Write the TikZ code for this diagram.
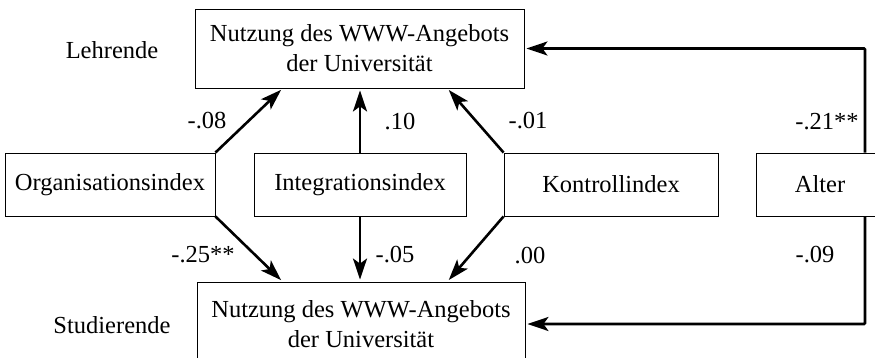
\documentclass[tikz,border=0pt]{standalone}
\usepackage{fontspec}
\setmainfont{Liberation Serif}
\usetikzlibrary{arrows.meta,calc}
\tikzset{
  box/.style={draw, line width=0.9pt, inner sep=0pt, align=center},
  arr/.style={line width=2.6pt, shorten >=2pt, -{Stealth[length=21pt,width=14pt,inset=5pt]}},
  lbl/.style={inner sep=0pt},
}
\begin{document}
\begin{tikzpicture}[x=1pt,y=-1pt,font=\fontsize{24.5}{30}\selectfont]
\useasboundingbox (0,0) rectangle (875,358);
\node[box, minimum width=329pt, minimum height=79pt] (top) at (359.5,48.5) {Nutzung des WWW-Angebots\\der Universität};
\node[box, minimum width=328pt, minimum height=84pt] (bot) at (361,324) {Nutzung des WWW-Angebots\\der Universität};
\node[box, minimum width=210pt, minimum height=63pt] (org) at (110,184.5) {Organisationsindex};
\node[box, minimum width=212pt, minimum height=63pt] (int) at (360,184.5) {Integrationsindex};
\node[box, minimum width=214pt, minimum height=63pt] (kon) at (611,184.5) {Kontrollindex};
\node[box, minimum width=128pt, minimum height=63pt] (alt) at (820,184.5) {Alter};
\node[lbl] (lehr) at (112,50) {Lehrende};
\node[lbl] (stud) at (112,325) {Studierende};
\draw[arr] (org.north east) -- ([xshift=88pt]top.south west);
\draw[arr] (int.north) -- (int.north |- top.south);
\draw[arr] (kon.north west) -- ([xshift=-77pt]top.south east);
\draw[arr] (org.south east) -- ([xshift=86pt]bot.north west);
\draw[arr] (int.south) -- (int.south |- bot.north);
\draw[arr] (kon.south west) -- ([xshift=-78pt]bot.north east);
\coordinate (ra) at ([xshift=45pt]alt.north);
\coordinate (rb) at ([xshift=45pt]alt.south);
\draw[arr, rounded corners=1pt] (ra) |- (top.east);
\draw[arr, rounded corners=1pt] (rb) |- (bot.east);
\node[lbl] (l1) at (207,121) {-.08};
\node[lbl] (l2) at (400,122) {.10};
\node[lbl] (l3) at (528,121) {-.01};
\node[lbl] (l4) at (827,122) {-.21**};
\node[lbl] (l5) at (203,255) {-.25**};
\node[lbl] (l6) at (395,255) {-.05};
\node[lbl] (l7) at (530,256) {.00};
\node[lbl] (l8) at (815,255) {-.09};
\end{tikzpicture}
\end{document}
